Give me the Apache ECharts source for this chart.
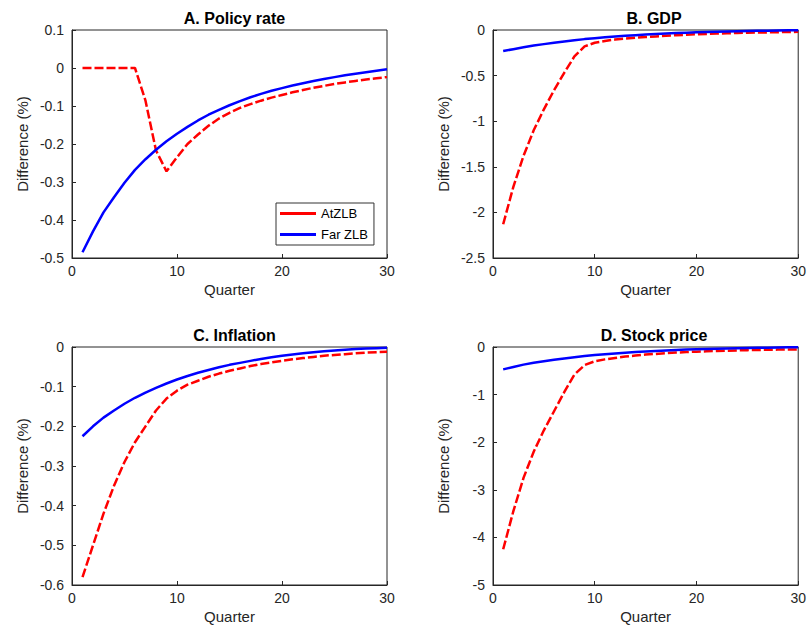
<!DOCTYPE html>
<html><head><meta charset="utf-8">
<script src="https://cdn.jsdelivr.net/npm/echarts@6/dist/echarts.min.js"></script>
<style>html,body{margin:0;padding:0;background:#fff}#c{width:809px;height:625px}</style>
</head><body><div id="c"></div>
<script>
const quarters = Array.from({ length: 30 }, (_, i) => i + 1);

const policyAt = [0, 0, 0, 0, 0, 0, -0.086, -0.217, -0.272, -0.235, -0.2, -0.175, -0.152, -0.133, -0.118,
  -0.105, -0.095, -0.086, -0.078, -0.071, -0.064, -0.058, -0.052, -0.047, -0.042, -0.038, -0.034, -0.03, -0.027, -0.024];
const policyFar = [-0.485, -0.43, -0.38, -0.34, -0.302, -0.268, -0.24, -0.215, -0.193, -0.173, -0.155, -0.138,
  -0.123, -0.11, -0.098, -0.087, -0.077, -0.068, -0.06, -0.053, -0.046, -0.04, -0.034, -0.029, -0.024, -0.019, -0.015, -0.011, -0.007, -0.003];

const gdpAt = [-2.13, -1.72, -1.38, -1.1, -0.87, -0.66, -0.47, -0.29, -0.18, -0.14, -0.12, -0.105, -0.095, -0.085,
  -0.077, -0.07, -0.063, -0.057, -0.052, -0.047, -0.043, -0.039, -0.036, -0.033, -0.03, -0.028, -0.026, -0.024, -0.022, -0.02];
const gdpFar = [-0.23, -0.21, -0.19, -0.17, -0.155, -0.14, -0.125, -0.112, -0.1, -0.09, -0.08, -0.072, -0.064, -0.057,
  -0.05, -0.044, -0.039, -0.034, -0.03, -0.026, -0.022, -0.019, -0.016, -0.013, -0.011, -0.009, -0.007, -0.005, -0.004, -0.003];

const inflAt = [-0.58, -0.5, -0.42, -0.35, -0.29, -0.24, -0.2, -0.16, -0.13, -0.11, -0.095, -0.085, -0.075, -0.067,
  -0.06, -0.054, -0.048, -0.043, -0.039, -0.035, -0.031, -0.028, -0.025, -0.022, -0.02, -0.018, -0.016, -0.014, -0.013, -0.012];
const inflFar = [-0.225, -0.2, -0.178, -0.16, -0.143, -0.128, -0.115, -0.103, -0.092, -0.082, -0.073, -0.065, -0.058,
  -0.051, -0.045, -0.04, -0.035, -0.03, -0.026, -0.022, -0.019, -0.016, -0.013, -0.011, -0.009, -0.007, -0.005, -0.004, -0.003, -0.002];

const stockAt = [-4.25, -3.45, -2.75, -2.2, -1.75, -1.35, -0.95, -0.58, -0.38, -0.3, -0.26, -0.23, -0.2, -0.18,
  -0.16, -0.145, -0.13, -0.118, -0.107, -0.098, -0.09, -0.083, -0.077, -0.071, -0.066, -0.062, -0.058, -0.055, -0.052, -0.05];
const stockFar = [-0.47, -0.42, -0.37, -0.33, -0.3, -0.27, -0.24, -0.215, -0.19, -0.17, -0.15, -0.135, -0.12, -0.105,
  -0.093, -0.082, -0.072, -0.063, -0.055, -0.048, -0.042, -0.036, -0.031, -0.026, -0.022, -0.018, -0.014, -0.01, -0.007, -0.005];

const panels = [
  { title: "A. Policy rate", at: policyAt, far: policyFar, min: -0.5, max: 0.1, step: 0.1, box: [72, 30, 315, 228] },
  { title: "B. GDP", at: gdpAt, far: gdpFar, min: -2.5, max: 0, step: 0.5, box: [493, 30, 312, 228] },
  { title: "C. Inflation", at: inflAt, far: inflFar, min: -0.6, max: 0, step: 0.1, box: [72, 347, 315, 246] },
  { title: "D. Stock price", at: stockAt, far: stockFar, min: -5, max: 0, step: 1, box: [493, 347, 312, 246] },
];

const font = "Liberation Sans, Arial, sans-serif";
const chart = echarts.init(document.getElementById("c"), null, { renderer: "svg" });

const option = {
  backgroundColor: "#fff",
  animation: false,
  textStyle: { fontFamily: font },
  title: panels.map((p) => ({
    text: p.title,
    left: p.box[0] + p.box[2] / 2,
    top: p.box[1] - 25,
    textAlign: "center",
    textStyle: { fontSize: 16, fontWeight: "bold", color: "#000", fontFamily: font },
  })),
  legend: {
    data: [{ name: "AtZLB", icon: "rect" }, { name: "Far ZLB", icon: "rect" }],
    orient: "vertical",
    left: 276, top: 203,
    itemWidth: 36, itemHeight: 3, itemGap: 8,
    padding: [4, 6, 4, 4],
    borderColor: "#333", borderWidth: 1, backgroundColor: "#fff",
    textStyle: { fontSize: 13, color: "#000", fontFamily: font },
  },
  grid: panels.map((p) => ({
    left: p.box[0], top: p.box[1], width: p.box[2], height: p.box[3],
    show: true, borderColor: "#262626", borderWidth: 1,
  })),
  xAxis: panels.map((p, i) => ({
    gridIndex: i, type: "value", min: 0, max: 30, interval: 10,
    name: "Quarter", nameLocation: "middle", nameGap: 24,
    nameTextStyle: { fontSize: 15, color: "#262626" },
    axisLine: { onZero: false, lineStyle: { color: "#262626" } },
    axisTick: { inside: true, length: 4 },
    axisLabel: { fontSize: 14, color: "#262626", margin: 6 },
    splitLine: { show: false },
  })),
  yAxis: panels.map((p, i) => ({
    gridIndex: i, type: "value", min: p.min, max: p.max, interval: p.step,
    name: "Difference (%)", nameLocation: "middle", nameGap: 42,
    nameTextStyle: { fontSize: 15, color: "#262626" },
    axisLine: { onZero: false, lineStyle: { color: "#262626" } },
    axisTick: { inside: true, length: 4 },
    axisLabel: { fontSize: 14, color: "#262626", margin: 8 },
    splitLine: { show: false },
  })),
  series: panels.flatMap((p, i) => [
    {
      name: "AtZLB", type: "line", xAxisIndex: i, yAxisIndex: i, showSymbol: false, symbol: "none",
      data: quarters.map((q, k) => [q, p.at[k]]),
      lineStyle: { color: "#ff0000", width: 2.5, type: [9, 3] }, itemStyle: { color: "#ff0000" }, z: 3,
    },
    {
      name: "Far ZLB", type: "line", xAxisIndex: i, yAxisIndex: i, showSymbol: false, symbol: "none",
      data: quarters.map((q, k) => [q, p.far[k]]),
      lineStyle: { color: "#0000ff", width: 2.5 }, itemStyle: { color: "#0000ff" }, z: 4,
    },
  ]),
};
chart.setOption(option);
</script></body></html>
